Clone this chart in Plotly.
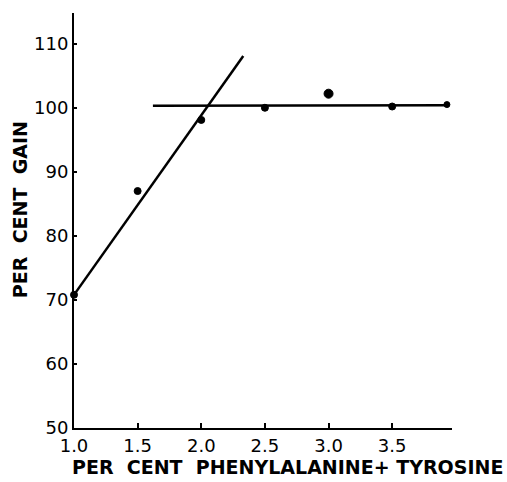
import plotly.graph_objects as go

# data points
x_pts = [1.0, 1.5, 2.0, 2.5, 3.0, 3.5, 3.93]
y_pts = [70.8, 87.0, 98.1, 100.0, 102.2, 100.2, 100.5]
pt_sizes = [7, 7, 7, 7, 9, 7, 6]

# fitted lines
rise_x = [1.0, 2.33]
rise_y = [70.8, 108.1]
plateau_x = [1.62, 3.93]
plateau_y = [100.3, 100.4]

x_ticks = [1.0, 1.5, 2.0, 2.5, 3.0, 3.5]
x_ticklabels = ["1.0", "1.5", "2.0", "2.5", "3.0", "3.5"]
y_ticks = [50, 60, 70, 80, 90, 100, 110]
y_ticklabels = ["50", "60", "70", "80", "90", "100", "110"]

fig = go.Figure()
fig.add_trace(go.Scatter(x=rise_x, y=rise_y, mode="lines",
                         line=dict(color="black", width=2.5), showlegend=False))
fig.add_trace(go.Scatter(x=plateau_x, y=plateau_y, mode="lines",
                         line=dict(color="black", width=2.5), showlegend=False))
fig.add_trace(go.Scatter(x=x_pts, y=y_pts, mode="markers",
                         marker=dict(color="#000000", size=pt_sizes, opacity=1,
                                     line=dict(color="#000000", width=1)),
                         opacity=1, showlegend=False, cliponaxis=False))

font = dict(family="DejaVu Sans", size=18, color="black")
fig.update_layout(
    width=507, height=482,
    margin=dict(l=74, r=55, t=13, b=54),
    paper_bgcolor="white", plot_bgcolor="white",
    font=font,
    xaxis=dict(range=[1.0, 3.97], tickvals=x_ticks, ticktext=x_ticklabels,
               ticks="inside", ticklen=5, tickwidth=1.5, tickcolor="black",
               showline=True, linecolor="black", linewidth=2, showgrid=False,
               zeroline=False, tickfont=font),
    yaxis=dict(range=[50, 114.8], tickvals=y_ticks, ticktext=y_ticklabels,
               ticks="inside", ticklen=3, tickwidth=1.5, tickcolor="black",
               showline=True, linecolor="black", linewidth=2, showgrid=False,
               zeroline=False, tickfont=font),
    annotations=[
        dict(text="<b>PER  CENT  PHENYLALANINE+ TYROSINE</b>", xref="paper", yref="paper",
             x=0.564, y=0, yshift=-39, xanchor="center", yanchor="middle", showarrow=False,
             font=dict(family="DejaVu Sans", size=19, color="black")),
        dict(text="<b>PER  CENT  GAIN</b>", xref="paper", yref="paper",
             x=0, xshift=-54, y=0.525, xanchor="center", yanchor="middle", textangle=-90,
             showarrow=False, font=dict(family="DejaVu Sans", size=19, color="black")),
    ],
)
fig.write_html("out.html")
